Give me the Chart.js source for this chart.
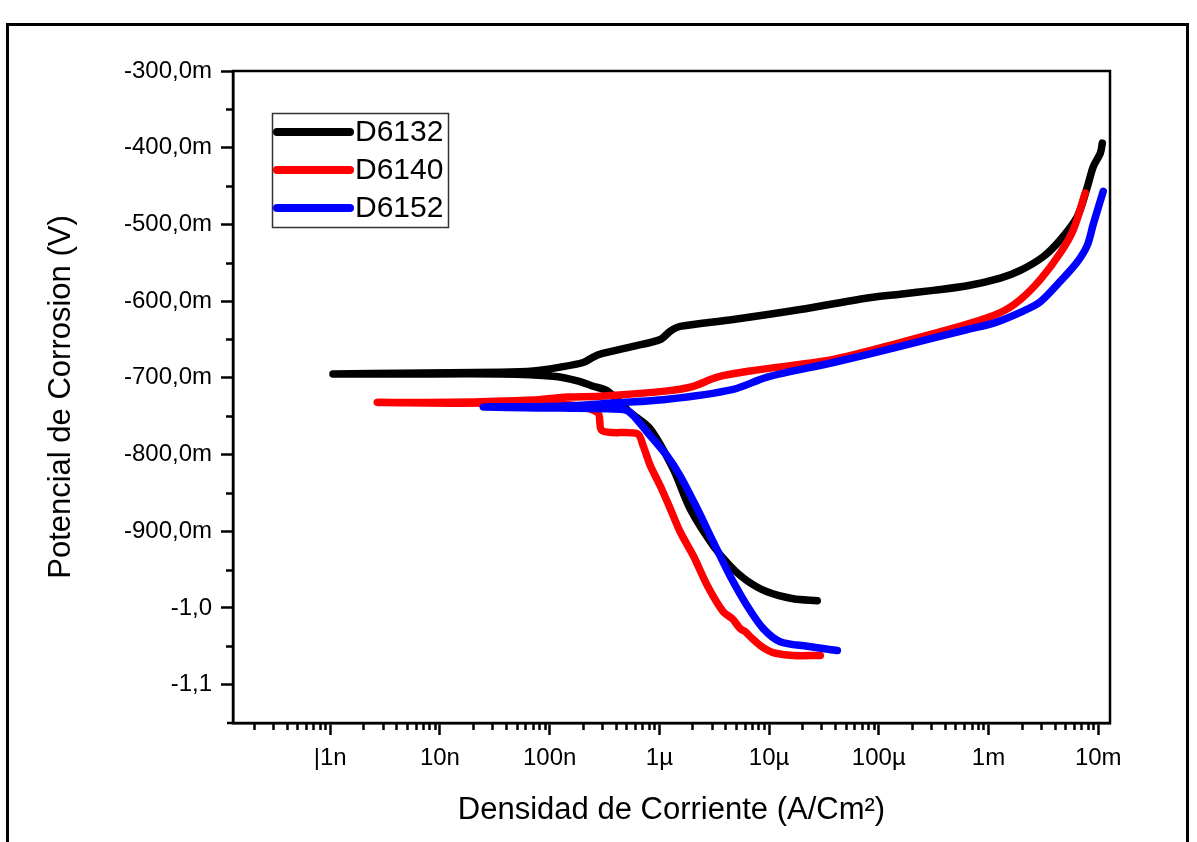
<!DOCTYPE html>
<html>
<head>
<meta charset="utf-8">
<script src="https://cdn.jsdelivr.net/npm/chart.js@4.4.1/dist/chart.umd.min.js"></script>
<style>
  html, body { margin: 0; padding: 0; background: #fff; }
</style>
</head>
<body>
<canvas id="myChart" width="1197" height="842"></canvas>
<script>
// series: current density (A/cm2) and potential (V), in scan order
var seriesNames = ['D6132', 'D6140', 'D6152'];

var d6132Current = [2.75e-5, 1.66e-5, 9.6e-6, 6.3e-6, 4.4e-6, 3.1e-6, 1.91e-6, 1.34e-6, 8.3e-7, 5.4e-7,
  3.35e-7, 2.49e-7, 1.79e-7, 1.08e-7, 3.55e-8, 4.3e-9, 1.06e-9, 4.3e-9, 3.55e-8, 7.1e-8,
  1.25e-7, 2.02e-7, 2.49e-7, 2.89e-7, 5.78e-7, 1.02e-6, 1.26e-6, 1.55e-6, 4.72e-6, 1.92e-5,
  7.85e-5, 1.57e-4, 3.14e-4, 6.41e-4, 1.28e-3, 1.95e-3, 3.16e-3, 4.52e-3, 6.44e-3, 7.96e-3, 9.0e-3, 1.045e-2, 1.09e-2];
var d6132Potential = [-0.9905, -0.988, -0.979, -0.9645, -0.945, -0.919, -0.871, -0.819, -0.767, -0.745,
  -0.717, -0.711, -0.704, -0.698, -0.695, -0.695, -0.695, -0.694, -0.6927, -0.691,
  -0.686, -0.680, -0.673, -0.669, -0.659, -0.650, -0.639, -0.633, -0.624, -0.611,
  -0.596, -0.591, -0.586, -0.580, -0.570, -0.560, -0.542, -0.520, -0.490, -0.451, -0.425, -0.407, -0.394];

var d6140Current = [2.93e-5, 1.66e-5, 1.14e-5, 9.8e-6, 8.3e-6, 7.03e-6, 6.07e-6, 5.46e-6, 4.62e-6, 3.82e-6,
  2.74e-6, 2.04e-6, 1.55e-6, 1.26e-6, 1.02e-6, 8.3e-7, 7.13e-7, 6.3e-7, 3.02e-7, 2.72e-7,
  1.25e-7, 1.24e-8, 2.68e-9, 1.24e-8, 7.1e-8, 1.45e-7, 2.89e-7, 1.18e-6, 2.04e-6, 3.37e-6,
  6.75e-6, 3.85e-5, 1.57e-4, 6.41e-4, 1.28e-3, 1.95e-3, 2.96e-3, 4.52e-3, 5.93e-3, 7.62e-3];
var d6140Potential = [-1.062, -1.062, -1.059, -1.0555, -1.049, -1.040, -1.031, -1.027, -1.014, -1.005,
  -0.971, -0.932, -0.901, -0.871, -0.841, -0.815, -0.789, -0.773, -0.769, -0.745,
  -0.734, -0.733, -0.732, -0.732, -0.729, -0.725, -0.724, -0.717, -0.711, -0.699,
  -0.691, -0.676, -0.654, -0.630, -0.615, -0.598, -0.572, -0.537, -0.507, -0.459];

var d6152Current = [4.19e-5, 2.23e-5, 1.26e-5, 8.85e-6, 6.3e-6, 4.4e-6, 3.1e-6, 2.22e-6, 1.55e-6, 1.18e-6,
  7.76e-7, 5.4e-7, 4.41e-7, 1.25e-7, 2.48e-8, 1.25e-7, 2.89e-7, 1.18e-6, 4.72e-6, 9.6e-6,
  3.85e-5, 1.57e-4, 6.41e-4, 1.15e-3, 2.07e-3, 2.96e-3, 4.52e-3, 6.44e-3, 7.96e-3, 9.0e-3, 1.11e-2];
var d6152Potential = [-1.0555, -1.050, -1.044, -1.027, -0.997, -0.958, -0.914, -0.871, -0.828, -0.802,
  -0.771, -0.745, -0.741, -0.7395, -0.738, -0.737, -0.734, -0.728, -0.715, -0.699,
  -0.680, -0.659, -0.637, -0.628, -0.613, -0.601, -0.574, -0.549, -0.527, -0.500, -0.457];

// axis ticks
var xTickValues = [1e-9, 1e-8, 1e-7, 1e-6, 1e-5, 1e-4, 1e-3, 1e-2];
var xTickLabels = ['|1n', '10n', '100n', '1\u00b5', '10\u00b5', '100\u00b5', '1m', '10m'];
var yTickValues = [-0.3, -0.4, -0.5, -0.6, -0.7, -0.8, -0.9, -1.0, -1.1];
var yTickLabels = ['-300,0m', '-400,0m', '-500,0m', '-600,0m', '-700,0m', '-800,0m', '-900,0m', '-1,0', '-1,1'];

var colors = ['#000000', '#ff0000', '#0000ff'];
var FONT = '"Liberation Sans", Arial, sans-serif';

function pts(xs, ys) {
  return xs.map(function(x, i) { return { x: x, y: ys[i] }; });
}

// minor tick positions
var xMinor = [];
for (var e = -10; e <= -3; e++) {
  for (var m = 2; m <= 9; m++) xMinor.push(m * Math.pow(10, e));
}
var yMinor = [];
for (var v = -350; v >= -1050; v -= 100) yMinor.push(v / 1000);

var decorPlugin = {
  id: 'decor',
  beforeDraw: function(chart) {
    var ctx = chart.ctx;
    ctx.save();
    ctx.strokeStyle = '#000';
    ctx.lineWidth = 3;
    ctx.beginPath();
    ctx.moveTo(7.5, 842);
    ctx.lineTo(7.5, 24.5);
    ctx.lineTo(1187.5, 24.5);
    ctx.lineTo(1187.5, 842);
    ctx.stroke();
    ctx.restore();
  },
  afterDraw: function(chart) {
    var ctx = chart.ctx;
    var a = chart.chartArea;
    var xs = chart.scales.x, ys = chart.scales.y;
    ctx.save();
    ctx.strokeStyle = '#000';
    ctx.lineWidth = 2.5;
    ctx.strokeRect(a.left, a.top, a.right - a.left, a.bottom - a.top);
    ctx.beginPath();
    ctx.moveTo(a.left - 6, a.bottom);
    ctx.lineTo(a.left, a.bottom);
    // minor ticks
    xMinor.forEach(function(val) {
      if (val < xs.min || val > xs.max) return;
      var px = Math.round(xs.getPixelForValue(val)) + 0.5;
      ctx.moveTo(px, a.bottom);
      ctx.lineTo(px, a.bottom + 7);
    });
    yMinor.forEach(function(val) {
      var py = Math.round(ys.getPixelForValue(val)) + 0.5;
      ctx.moveTo(a.left, py);
      ctx.lineTo(a.left - 7, py);
    });
    ctx.stroke();

    // legend box
    var bx = 272, by = 113, bw = 176, bh = 114;
    ctx.lineWidth = 1.5;
    ctx.strokeStyle = '#333';
    ctx.strokeRect(bx + 0.5, by + 0.5, bw, bh);
    ctx.font = '30px ' + FONT;
    ctx.textBaseline = 'middle';
    ctx.textAlign = 'left';
    chart.data.datasets.forEach(function(ds, i) {
      var ry = 132 + i * 38;
      ctx.strokeStyle = ds.borderColor;
      ctx.lineWidth = 8;
      ctx.lineCap = 'round';
      ctx.beginPath();
      ctx.moveTo(277, ry);
      ctx.lineTo(350, ry);
      ctx.stroke();
      ctx.fillStyle = '#000';
      ctx.fillText(ds.label, 355, ry + 1);
    });
    ctx.restore();
  }
};

var ctx = document.getElementById('myChart');
var myChart = new Chart(ctx, {
  type: 'scatter',
  data: {
    datasets: [
      { label: seriesNames[0], data: pts(d6132Current, d6132Potential), borderColor: colors[0], order: 3 },
      { label: seriesNames[1], data: pts(d6140Current, d6140Potential), borderColor: colors[1], order: 2 },
      { label: seriesNames[2], data: pts(d6152Current, d6152Potential), borderColor: colors[2], order: 1 }
    ]
  },
  options: {
    responsive: false,
    animation: false,
    devicePixelRatio: 1,
    showLine: true,
    elements: {
      point: { radius: 0, hoverRadius: 0 },
      line: { borderWidth: 7.5, tension: 0.3, fill: false, borderCapStyle: 'round', borderJoinStyle: 'round' }
    },
    layout: { padding: { top: 71, right: 87, bottom: 0, left: 0 } },
    plugins: {
      legend: { display: false },
      tooltip: { enabled: false }
    },
    scales: {
      x: {
        type: 'logarithmic',
        min: 1.3e-10,
        max: 1.28e-2,
        afterBuildTicks: function(scale) {
          scale.ticks = xTickValues.map(function(v) { return { value: v }; });
        },
        afterFit: function(scale) { scale.height = 119; },
        grid: { display: true, drawOnChartArea: false, drawTicks: true, tickLength: 12, tickWidth: 2.5, tickColor: '#000', color: '#000' },
        border: { display: true, color: '#000', width: 2.5 },
        ticks: {
          autoSkip: false, maxRotation: 0, padding: 9, color: '#000',
          font: { family: FONT, size: 24 },
          callback: function(value, index) { return xTickLabels[index]; }
        },
        title: {
          display: true,
          text: 'Densidad de Corriente (A/Cm\u00b2)',
          color: '#000',
          font: { family: FONT, size: 31 },
          padding: { top: 0, bottom: 13 }
        }
      },
      y: {
        type: 'linear',
        min: -1.15,
        max: -0.3,
        afterBuildTicks: function(scale) {
          scale.ticks = yTickValues.map(function(v) { return { value: v }; });
        },
        afterFit: function(scale) { scale.width = 233; },
        grid: { display: true, drawOnChartArea: false, drawTicks: true, tickLength: 12, tickWidth: 2.5, tickColor: '#000', color: '#000' },
        border: { display: true, color: '#000', width: 2.5 },
        ticks: {
          autoSkip: false, padding: 9, color: '#000',
          font: { family: FONT, size: 24 },
          callback: function(value, index) { return yTickLabels[index]; }
        },
        title: {
          display: true,
          text: 'Potencial de Corrosion (V)',
          color: '#000',
          font: { family: FONT, size: 31 },
          padding: { top: 43, bottom: 0 }
        }
      }
    }
  },
  plugins: [decorPlugin]
});
</script>
</body>
</html>
